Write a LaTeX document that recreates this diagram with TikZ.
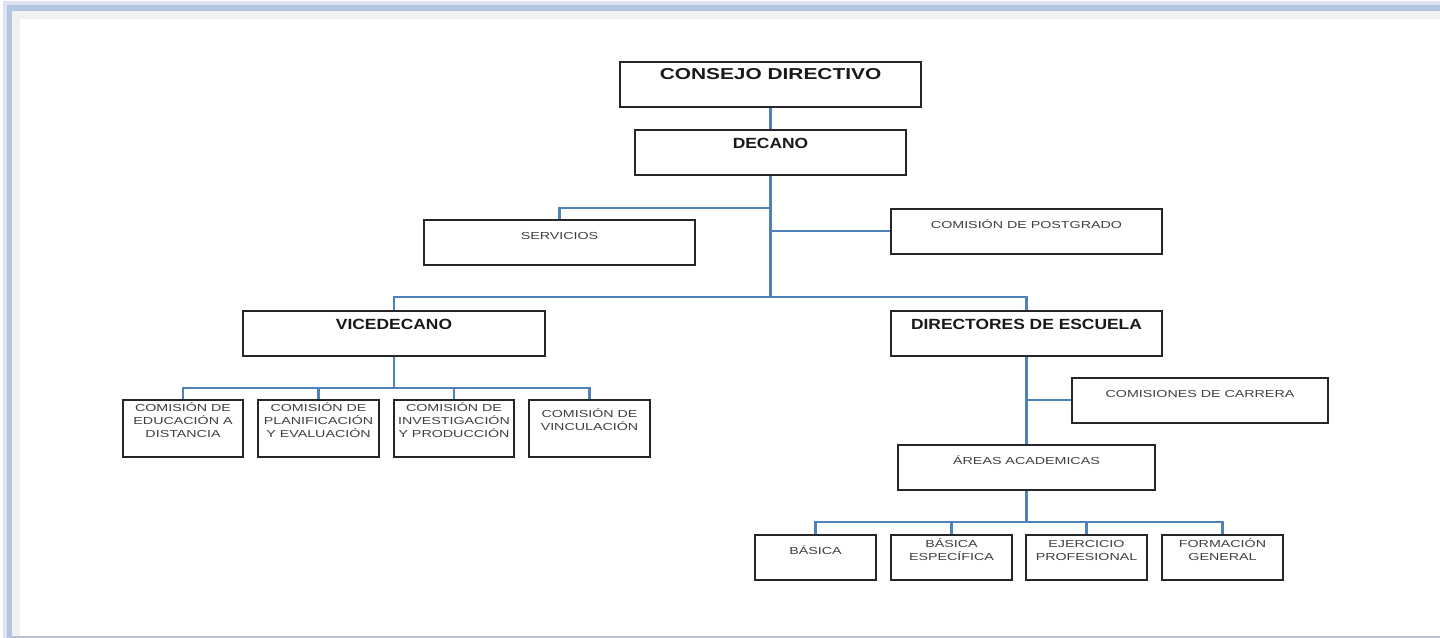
\documentclass[tikz,border=0pt]{standalone}
\usepackage{fontspec}
\newfontfamily\orgfont[FakeStretch=1.40]{Liberation Sans}
\newfontfamily\headfont[FakeStretch=1.18]{Liberation Sans}
\newfontfamily\topfont[FakeStretch=1.32]{Liberation Sans}
\definecolor{linkblue}{HTML}{4F81BD}
\definecolor{frameblue}{HTML}{B4C5E1}
\definecolor{frameshade}{HTML}{DCE4F1}
\definecolor{framegray}{HTML}{F0F0F0}
\definecolor{framebottom}{HTML}{B8C0CF}
\begin{document}
\begin{tikzpicture}[x=0.02cm,y=-0.02cm,
    box/.style={draw=black!85,line width=1.15pt,inner sep=0pt,anchor=north,align=center,
      text=black!75,font=\orgfont\fontsize{5.8}{7.4}\selectfont},
    headbox/.style={box,text=black!90,font=\headfont\bfseries\fontsize{8.4}{10}\selectfont,
      text height=10.8pt,text depth=14.7pt},
    onebox/.style={box,text height=11.1pt,text depth=14.4pt},
    twobox/.style={box,text height=14.6pt,text depth=10.9pt},
    threebox/.style={box,text height=21.4pt,text depth=10.9pt},
    link/.style={draw=linkblue,line width=1.2pt}]

    \useasboundingbox (0,0) rectangle (1440,638);
    % frame
    \fill[frameshade] (3,1) rectangle (1440,638);
    \fill[frameblue] (7,5) rectangle (1440,638);
    \fill[framegray] (12,11) rectangle (1440,638);
    \fill[framebottom] (12,636) rectangle (1440,638);
    \fill[white] (20,19) rectangle (1440,636);

    % top levels
    \node[headbox,font=\topfont\bfseries\fontsize{9}{11}\selectfont,text height=9.9pt,text depth=15.6pt,
      minimum width=6.02cm] (consejo) at (770.5,61) {CONSEJO DIRECTIVO};
    \node[headbox,minimum width=5.42cm] (decano) at (770.5,129) {DECANO};
    \node[onebox,minimum width=5.42cm] (servicios) at (559.5,219) {SERVICIOS};
    \node[onebox,minimum width=5.42cm] (postgrado) at (1026.5,208) {COMISIÓN DE POSTGRADO};
    \node[headbox,minimum width=6.04cm] (vicedecano) at (394,310) {VICEDECANO};
    \node[headbox,minimum width=5.42cm] (directores) at (1026.5,310) {DIRECTORES DE ESCUELA};

    % comisiones del vicedecano
    \node[threebox,minimum width=2.41cm] (educacion) at (183,399) {COMISIÓN DE\\EDUCACIÓN A\\DISTANCIA};
    \node[threebox,minimum width=2.41cm] (planificacion) at (318.5,399) {COMISIÓN DE\\PLANIFICACIÓN\\Y EVALUACIÓN};
    \node[threebox,minimum width=2.41cm] (investigacion) at (454,399) {COMISIÓN DE\\INVESTIGACIÓN\\Y PRODUCCIÓN};
    \node[box,text height=17.4pt,text depth=14.9pt,minimum width=2.41cm] (vinculacion) at (589.5,399) {COMISIÓN DE\\VINCULACIÓN};

    % escuelas
    \node[onebox,minimum width=5.12cm] (carrera) at (1200,377) {COMISIONES DE CARRERA};
    \node[onebox,minimum width=5.14cm] (areas) at (1026.5,444) {ÁREAS ACADEMICAS};
    \node[onebox,minimum width=2.42cm] (basica) at (815.5,534) {BÁSICA};
    \node[twobox,minimum width=2.42cm] (especifica) at (951.5,534) {BÁSICA\\ESPECÍFICA};
    \node[twobox,minimum width=2.42cm] (ejercicio) at (1086.5,534) {EJERCICIO\\PROFESIONAL};
    \node[twobox,minimum width=2.42cm] (formacion) at (1222.5,534) {FORMACIÓN\\GENERAL};

    % connectors
    \coordinate (srv) at (770.5,208);
    \coordinate (trunk) at (770.5,297);
    \coordinate (vtrunk) at (394,388);
    \coordinate (atrunk) at (1026.5,522);

    \draw[link] (consejo) -- (decano);
    \draw[link] (decano.south) -- (trunk);
    \draw[link] (servicios.north) |- (srv);
    \draw[link] (postgrado.west) -- (postgrado.west -| trunk);
    \draw[link] (vicedecano.north) |- (trunk) -| (directores.north);

    \draw[link] (vicedecano.south) -- (vtrunk);
    \foreach \n in {educacion,planificacion,investigacion,vinculacion}
    \draw[link] (\n.north) |- (vtrunk);

    \draw[link] (directores.south) -- (areas.north);
    \draw[link] (carrera.west) -- (carrera.west -| directores.south);
    \draw[link] (areas.south) -- (atrunk);
    \foreach \n in {basica,especifica,ejercicio,formacion}
    \draw[link] (\n.north) |- (atrunk);
\end{tikzpicture}
\end{document}
